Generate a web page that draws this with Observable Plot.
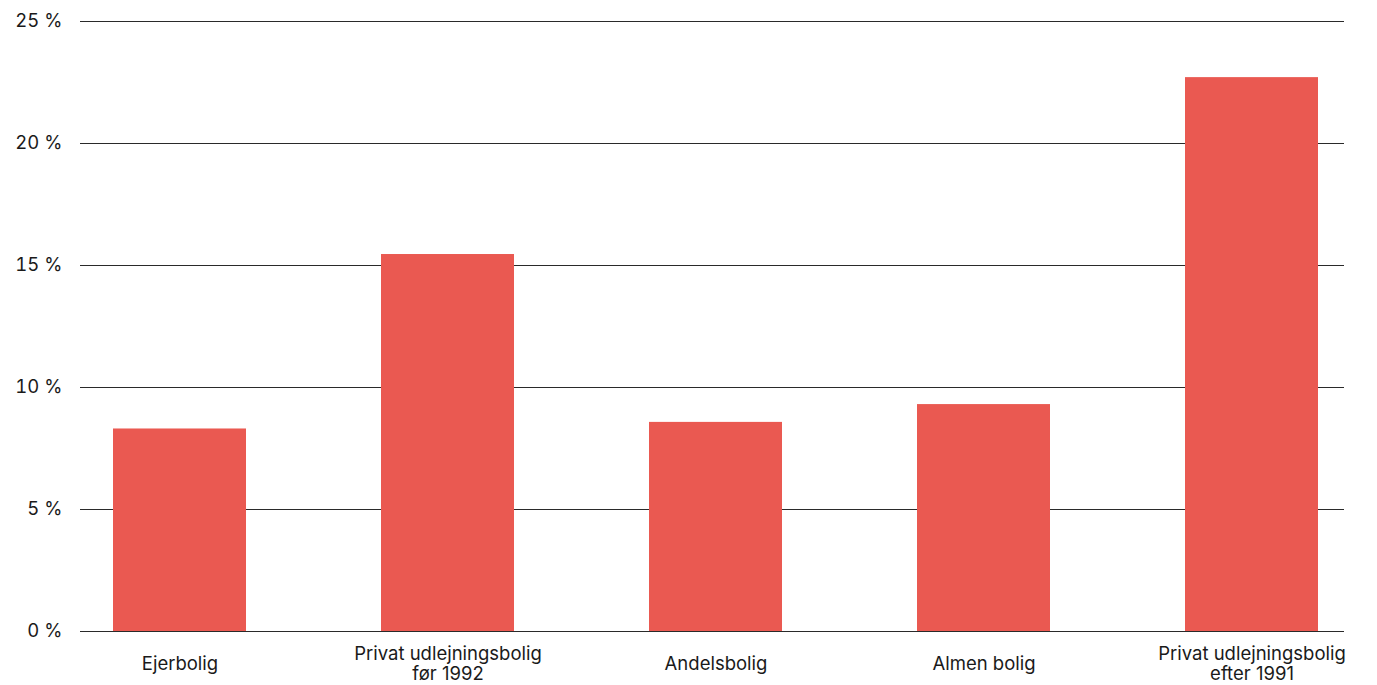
<!DOCTYPE html>
<html>
<head>
<meta charset="utf-8">
<script src="https://cdn.jsdelivr.net/npm/d3@7"></script>
<script src="https://cdn.jsdelivr.net/npm/@observablehq/plot@0.6"></script>
<style>
  html, body { margin: 0; padding: 0; background: #fff; }
  #chart svg { display: block; }
</style>
</head>
<body>
<div id="chart"></div>
<script>
// Boligtyper (multi-line labels use \n)
const categories = [
  "Ejerbolig",
  "Privat udlejningsbolig\nfør 1992",
  "Andelsbolig",
  "Almen bolig",
  "Privat udlejningsbolig\nefter 1991"
];
// Andel i procent
const values = [8.3, 15.45, 8.57, 9.3, 22.7];
const yTicks = [0, 5, 10, 15, 20, 25];

const data = categories.map((c, i) => ({category: c, value: values[i]}));

const chart = Plot.plot({
  width: 1377,
  height: 685,
  marginTop: 21,
  marginBottom: 54,
  marginLeft: 80,
  marginRight: 33,
  style: {fontFamily: "Inter, 'DejaVu Sans', sans-serif", fontSize: "18.5px", color: "#1a1a1a", background: "#fff"},
  x: {domain: categories, range: [80, 1351], paddingInner: 0.504, paddingOuter: 0.118, label: null},
  y: {domain: [0, 25], label: null},
  marks: [
    Plot.ruleY(yTicks, {stroke: "#2a2a2a", strokeWidth: 1.2}),
    Plot.barY(data, {x: "category", y: "value", fill: "#ea5951"}),
    Plot.axisY({
      ticks: yTicks,
      tickSize: 0,
      tickPadding: 18,
      tickFormat: d => `${d} %`,
      label: null,
      fontSize: 18.5
    }),
    Plot.axisX({
      tickSize: 0,
      tickPadding: 32,
      lineAnchor: "middle",
      lineHeight: 1.1,
      label: null,
      fontSize: 18.5
    })
  ]
});

document.getElementById("chart").append(chart);
</script>
</body>
</html>
